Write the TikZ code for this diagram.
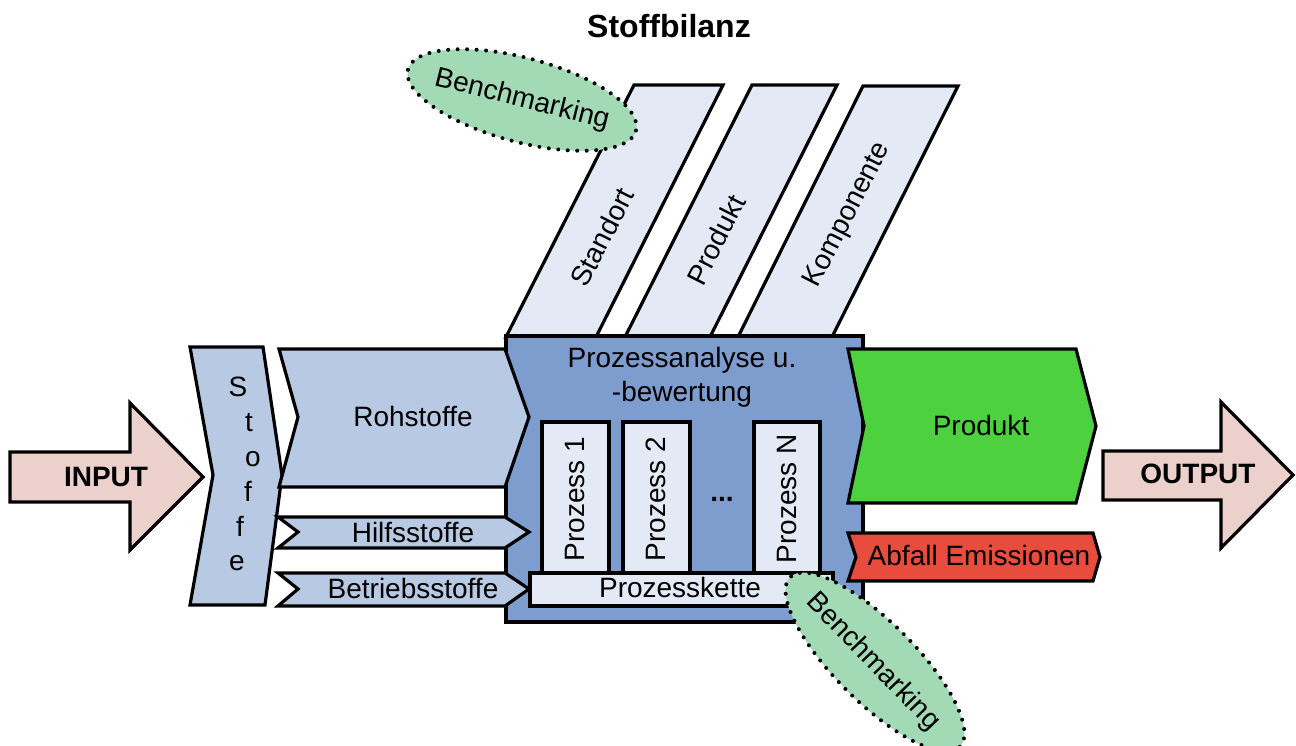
\documentclass[tikz,border=0pt]{standalone}
\usepackage{fontspec}
\setmainfont{Liberation Sans}
\usetikzlibrary{shapes.geometric}
\definecolor{stoffblue}{HTML}{B8C9E4}
\definecolor{procblue}{HTML}{7C9DCE}
\definecolor{paleblue}{HTML}{E3EAF6}
\definecolor{prodgreen}{HTML}{4DD13F}
\definecolor{wastered}{HTML}{E74C3C}
\definecolor{iopink}{HTML}{EBD0CB}
\definecolor{benchgreen}{HTML}{A3DAB6}
\tikzset{
  outline/.style={draw=black, line width=3.2pt, line join=miter},
  lbl/.style={font=\fontsize{28}{34}\selectfont, inner sep=0pt},
  boldlbl/.style={font=\fontsize{28}{34}\selectfont\bfseries, inner sep=0pt},
  benchblob/.style={ellipse, fill=benchgreen, draw=black, line width=4pt,
    dash pattern=on 0pt off 9.5pt, line cap=round, inner sep=0pt},
}
\begin{document}
\begin{tikzpicture}[x=1pt,y=1pt]
\useasboundingbox (0,0) rectangle (1296,746);

% reference levels: slanted bars above the process box
\draw[outline, fill=paleblue] (506,409) -- (596,409) -- (723,661) -- (634,661) -- cycle;
\draw[outline, fill=paleblue] (625,409) -- (710,409) -- (837,661) -- (752,661) -- cycle;
\draw[outline, fill=paleblue] (738,409) -- (832,409) -- (958,660) -- (863,660) -- cycle;
\node[lbl, rotate=63] (standort) at (602,509) {Standort};
\node[lbl, rotate=63] (produktlevel) at (716,506) {Produkt};
\node[lbl, rotate=63] (komponente) at (848,531) {Komponente};

% benchmarking bubble, upper
\node[benchblob, minimum width=236pt, minimum height=84pt, rotate=-15] (benchtop) at (522,646) {};
\node[lbl, rotate=-14] (benchtoptext) at (522,646) {Benchmarking};

% process analysis box
\draw[outline, fill=procblue] (506,410) rectangle (863,124);
\node[lbl, align=center, anchor=base] (analyse) at (682,344) {Prozessanalyse u.\\-bewertung};

% input materials
\draw[outline, fill=stoffblue] (190,399) -- (263,399) -- (282,271) -- (265,141) -- (190,141) -- (213,271) -- cycle;
\node[lbl, anchor=base] (s1) at (238,349) {S};
\node[lbl, anchor=base] (s2) at (249,314) {t};
\node[lbl, anchor=base] (s3) at (253,279) {o};
\node[lbl, anchor=base] (s4) at (248,244) {f};
\node[lbl, anchor=base] (s5) at (240,209) {f};
\node[lbl, anchor=base] (s6) at (237,175) {e};

\draw[outline, fill=stoffblue] (279,397) -- (505,397) -- (529,329) -- (505,259) -- (279,259) -- (298,329) -- cycle;
\node[lbl] (roh) at (413,329) {Rohstoffe};
\draw[outline, fill=stoffblue] (278,229) -- (505,229) -- (529,214) -- (505,198) -- (278,198) -- (298,214) -- cycle;
\node[lbl] (hilf) at (413,214) {Hilfsstoffe};
\draw[outline, fill=stoffblue] (278,173) -- (505,173) -- (529,157) -- (505,140) -- (278,140) -- (298,157) -- cycle;
\node[lbl] (betrieb) at (413,158) {Betriebsstoffe};

% individual processes and process chain
\draw[outline, fill=paleblue] (542,324) rectangle (609,173);
\draw[outline, fill=paleblue] (623,324) rectangle (690,173);
\draw[outline, fill=paleblue] (754,324) rectangle (820,173);
\node[lbl, rotate=90] (p1) at (575,247) {Prozess 1};
\node[lbl, rotate=90] (p2) at (656,247) {Prozess 2};
\node[lbl, rotate=90] (pn) at (787,247) {Prozess N};
\node[boldlbl, anchor=base] (dots) at (722,244) {...};
\draw[outline, fill=paleblue] (530,173) rectangle (833,140);
\node[lbl] (kette) at (680,159) {Prozesskette};

% outputs
\draw[outline, fill=prodgreen] (848,397) -- (1076,397) -- (1096,320) -- (1076,243) -- (848,243) -- (864,320) -- cycle;
\node[lbl] (produkt) at (981,321) {Produkt};
\draw[outline, fill=wastered] (848,213) -- (1093,213) -- (1100,189) -- (1093,165) -- (848,165) -- (856,189) -- cycle;
\node[lbl] (abfall) at (979,191) {Abfall Emissionen};

% input / output arrows
\draw[outline, fill=iopink] (10,294) -- (130,294) -- (130,343) -- (203,269) -- (130,196) -- (130,244) -- (10,244) -- cycle;
\node[boldlbl] (input) at (106,269) {INPUT};
\draw[outline, fill=iopink] (1103,295) -- (1221,295) -- (1221,344) -- (1293,271) -- (1221,198) -- (1221,246) -- (1103,246) -- cycle;
\node[boldlbl] (output) at (1198,272) {OUTPUT};

% benchmarking bubble, lower
\node[benchblob, minimum width=240pt, minimum height=80pt, rotate=-45] (benchlow) at (875,84) {};
\node[lbl, rotate=-46] (benchlowtext) at (873,84) {Benchmarking};

% title
\node[font=\fontsize{32}{38}\selectfont\bfseries, inner sep=0pt, anchor=base] (title) at (669,708) {Stoffbilanz};
\end{tikzpicture}
\end{document}
